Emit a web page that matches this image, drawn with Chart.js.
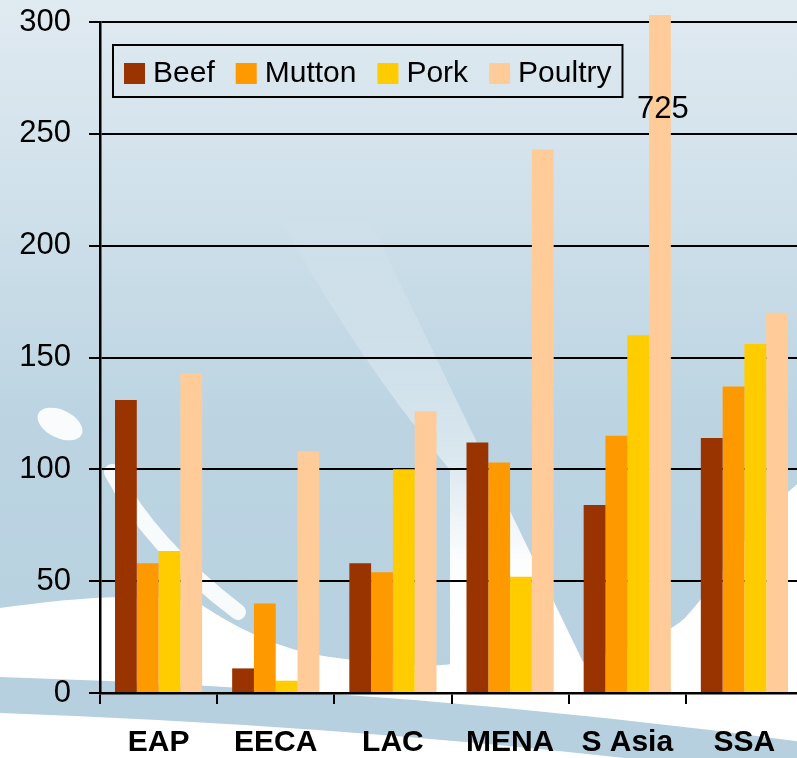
<!DOCTYPE html>
<html>
<head>
<meta charset="utf-8">
<script src="https://cdn.jsdelivr.net/npm/chart.js@4.4.0/dist/chart.umd.min.js"></script>
<style>
  html, body { margin: 0; padding: 0; overflow: hidden; background: #fff; }
  canvas { display: block; }
</style>
</head>
<body>
<canvas id="chart" width="803" height="758"></canvas>
<script>
// Meat categories by region
const regions = ['EAP', 'EECA', 'LAC', 'MENA', 'S Asia', 'SSA'];
const beef    = [131, 11, 58, 112, 84, 114];
const mutton  = [58, 40, 54, 103, 115, 137];
const pork    = [63.5, 5.5, 100, 52, 160, 156];
const poultry = [143, 108, 126, 243, 725, 170];
const seriesNames  = ['Beef', 'Mutton', 'Pork', 'Poultry'];
const seriesColors = ['#993300', '#FF9900', '#FFCC00', '#FFCC99'];
const yTicks = [0, 50, 100, 150, 200, 250, 300];

const FONT = '"Liberation Sans", Arial, sans-serif';

// Soft blue backdrop with white swooshes
const backdrop = {
  id: 'backdrop',
  beforeDraw(chart) {
    const ctx = chart.ctx, W = chart.width, H = chart.height;
    ctx.save();
    const g = ctx.createLinearGradient(0, 0, 0, H);
    g.addColorStop(0, '#e0eaf1');
    g.addColorStop(0.3, '#cddfe9');
    g.addColorStop(0.55, '#bcd4e2');
    g.addColorStop(1, '#b6d0df');
    ctx.fillStyle = g;
    ctx.fillRect(0, 0, W, H);

    // faint diagonal light band
    const s = ctx.createLinearGradient(0, 210, 0, 620);
    s.addColorStop(0, 'rgba(255,255,255,0)');
    s.addColorStop(0.3, 'rgba(255,255,255,0.18)');
    s.addColorStop(0.6, 'rgba(255,255,255,0.45)');
    s.addColorStop(0.85, 'rgba(255,255,255,0.95)');
    s.addColorStop(1, 'rgba(255,255,255,1)');
    ctx.fillStyle = s;
    ctx.beginPath();
    ctx.moveTo(270, 200);
    ctx.lineTo(355, 190);
    ctx.lineTo(583, 662);
    ctx.lineTo(600, 700);
    ctx.lineTo(450, 700);
    ctx.lineTo(450, 470);
    ctx.quadraticCurveTo(350, 350, 270, 200);
    ctx.fill();

    ctx.fillStyle = '#ffffff';
    // lower white area
    ctx.beginPath();
    ctx.moveTo(0, 608);
    ctx.bezierCurveTo(60, 600, 140, 590, 200, 604);
    ctx.bezierCurveTo(240, 630, 280, 650, 330, 657);
    ctx.bezierCurveTo(380, 664, 420, 668, 452, 664);
    ctx.lineTo(583, 662);
    ctx.bezierCurveTo(620, 650, 660, 640, 685, 618);
    ctx.bezierCurveTo(720, 580, 760, 510, 803, 480);
    ctx.lineTo(803, 758);
    ctx.lineTo(0, 758);
    ctx.closePath();
    ctx.fill();

    // teardrop on the left
    ctx.fillStyle = 'rgba(255,255,255,0.9)';
    ctx.beginPath();
    ctx.ellipse(60, 424, 24, 14, 0.45, 0, Math.PI * 2);
    ctx.fill();

    // curved white stroke
    ctx.strokeStyle = 'rgba(255,255,255,0.9)';
    ctx.lineCap = 'round';
    ctx.lineWidth = 16;
    ctx.beginPath();
    ctx.moveTo(112, 472);
    ctx.quadraticCurveTo(150, 545, 238, 612);
    ctx.stroke();

    // blue band beneath the axis
    ctx.fillStyle = '#b6d0df';
    ctx.beginPath();
    ctx.moveTo(0, 677);
    ctx.quadraticCurveTo(420, 690, 803, 742);
    ctx.lineTo(803, 780);
    ctx.quadraticCurveTo(420, 728, 0, 713);
    ctx.closePath();
    ctx.fill();
    ctx.restore();
  }
};

// Boxed legend inside the plot
const legendBox = {
  id: 'legendBox',
  afterDraw(chart) {
    const { ctx, chartArea } = chart;
    const x0 = chartArea.left + 13, y0 = chartArea.top + 23;
    const sq = 21, gapText = 8, gapItem = 21, pad = 11, h = 52;
    ctx.save();
    ctx.font = '30px ' + FONT;
    const items = chart.data.datasets.map(ds => ({
      label: ds.label, color: ds.backgroundColor, w: ctx.measureText(ds.label).width
    }));
    let total = pad * 2 + gapItem * (items.length - 1);
    items.forEach(it => { total += sq + gapText + it.w; });
    ctx.strokeStyle = '#000';
    ctx.lineWidth = 2;
    ctx.strokeRect(x0, y0, total, h);
    let x = x0 + pad;
    ctx.textBaseline = 'alphabetic';
    ctx.textAlign = 'left';
    items.forEach(it => {
      ctx.fillStyle = it.color;
      ctx.fillRect(x, y0 + 18, sq, sq);
      ctx.fillStyle = '#000';
      ctx.fillText(it.label, x + sq + gapText, y0 + 37);
      x += sq + gapText + it.w + gapItem;
    });
    ctx.restore();
  }
};

// Value written on bars that run past the axis maximum
const overflowLabel = {
  id: 'overflowLabel',
  afterDatasetsDraw(chart) {
    const { ctx } = chart;
    const yScale = chart.scales.y;
    ctx.save();
    ctx.font = '31px ' + FONT;
    ctx.fillStyle = '#000';
    ctx.textAlign = 'center';
    ctx.textBaseline = 'middle';
    chart.data.datasets.forEach((ds, di) => {
      const meta = chart.getDatasetMeta(di);
      ds.data.forEach((v, i) => {
        if (v > yScale.max) {
          const bar = meta.data[i];
          ctx.fillText(String(v), bar.x + 3, yScale.getPixelForValue(yScale.max - 39));
        }
      });
    });
    ctx.restore();
  }
};

const seriesData = [beef, mutton, pork, poultry];

new Chart(document.getElementById('chart'), {
  type: 'bar',
  data: {
    labels: regions,
    datasets: seriesData.map((d, i) => ({
      label: seriesNames[i],
      data: d,
      backgroundColor: seriesColors[i],
      borderWidth: 0,
      categoryPercentage: 0.744,
      barPercentage: 1,
      clip: { left: 0, top: 7, right: 0, bottom: 0 }
    }))
  },
  options: {
    responsive: false,
    animation: false,
    layout: { padding: { top: 22, left: 0, right: 0, bottom: 0 } },
    plugins: { legend: { display: false }, tooltip: { enabled: false } },
    scales: {
      x: {
        grid: { offset: true, drawOnChartArea: false, color: '#000', lineWidth: 2, tickLength: 11 },
        border: { color: '#000', width: 2.5 },
        ticks: { font: { family: FONT, size: 30, weight: 'bold' }, color: '#000', padding: 21, maxRotation: 0, autoSkip: false },
        afterFit(scale) { scale.height = 65; scale.paddingLeft = 0; scale.paddingRight = 0; }
      },
      y: {
        min: 0,
        max: 300,
        afterBuildTicks(scale) { scale.ticks = yTicks.map(v => ({ value: v })); },
        grid: { color: '#000', lineWidth: 2, tickLength: 11 },
        border: { color: '#000', width: 2.5 },
        ticks: { font: { family: FONT, size: 31 }, color: '#000', padding: 18 },
        afterFit(scale) { scale.width = 100; scale.paddingTop = 0; scale.paddingBottom = 0; }
      }
    }
  },
  plugins: [backdrop, legendBox, overflowLabel]
});
</script>
</body>
</html>
